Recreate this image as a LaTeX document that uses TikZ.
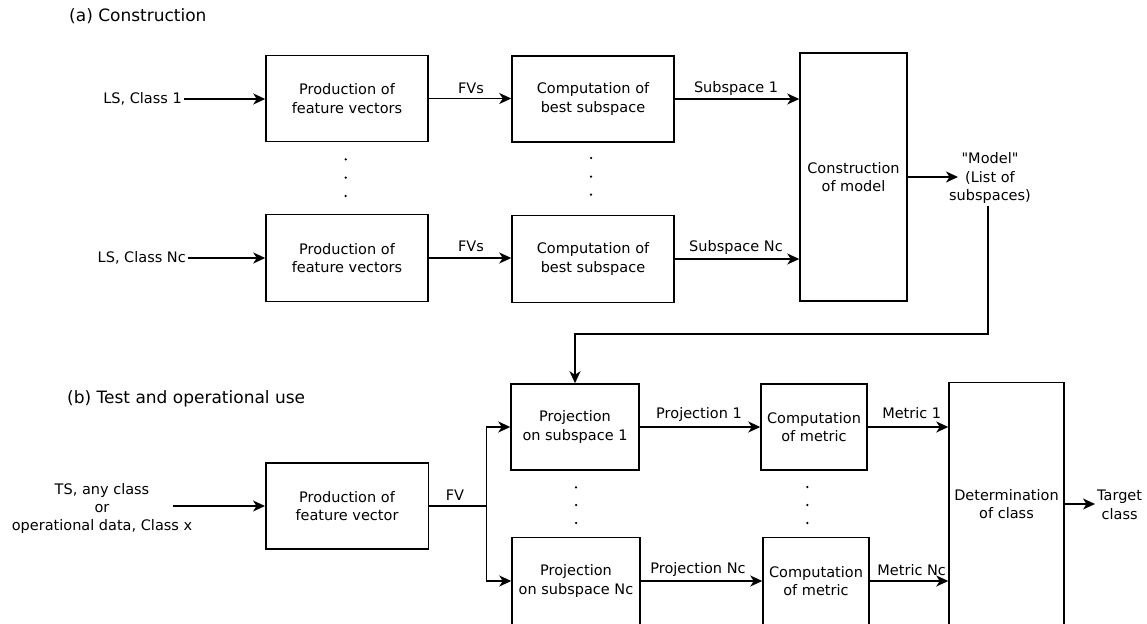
\documentclass[tikz,border=0pt]{standalone}
\usepackage{fontspec}
\setmainfont{DejaVu Sans}[Ligatures=TeXOff]
\usetikzlibrary{arrows.meta,calc}
\begin{document}
\begin{tikzpicture}[x=1pt,y=-1pt,
  box/.style={draw, line width=1.5pt, inner sep=0pt, align=center, font=\fontsize{14.5}{18.5}\selectfont},
  lbl/.style={inner sep=2pt, align=center, font=\fontsize{14.5}{18.5}\selectfont},
  ttl/.style={inner sep=0pt, anchor=west, font=\fontsize{17}{20}\selectfont},
  arr/.style={line width=1.5pt, -{Stealth[length=12pt,width=11pt,inset=3.5pt]}},
  ln/.style={line width=1.5pt},
  dot/.style={circle, fill, inner sep=0pt, minimum size=2.5pt}]
\useasboundingbox (0,0) rectangle (1147,623);

% titles
\node[ttl] (ta) at (69,16) {(a) Construction};
\node[ttl] (tb) at (67,399) {(b) Test and operational use};

% (a) boxes
\node[box, minimum width=162pt, minimum height=86pt] (P1) at (347,98.5) {Production of\\feature vectors};
\node[box, minimum width=162pt, minimum height=86pt] (C1) at (593,99) {Computation of\\best subspace};
\node[box, minimum width=162pt, minimum height=87pt] (P2) at (347,258) {Production of\\feature vectors};
\node[box, minimum width=162pt, minimum height=87pt] (C2) at (593,259) {Computation of\\best subspace};
\node[box, minimum width=107pt, minimum height=248pt] (CM) at (853.5,177) {Construction\\of model};

% (a) labels
\node[lbl, anchor=east] (ls1) at (184,99) {LS, Class 1};
\node[lbl, anchor=east] (lsn) at (188,258) {LS, Class Nc};
\node[lbl] (fv1) at (471,88) {FVs};
\node[lbl] (fv2) at (471,246) {FVs};
\node[lbl] (s1) at (736,88) {Subspace 1};
\node[lbl] (sn) at (736,247) {Subspace Nc};
\node[lbl] (model) at (990,178) {"Model"\\(List of\\subspaces)};
\coordinate (mend) at (958,177);

% (a) connectors
\draw[arr] (ls1.east) -- (ls1.east -| P1.west);
\draw[arr] (lsn.east) -- (lsn.east -| P2.west);
\draw[arr] (P1.east) -- (P1.east -| C1.west);
\draw[arr] (P2.east) -- (P2.east -| C2.west);
\draw[arr] (C1.east) -- (C1.east -| CM.west);
\draw[arr] (C2.east) -- (C2.east -| CM.west);
\draw[arr] (CM.east) -- (CM.east -| mend);

% dots (a)
\foreach \y [count=\i] in {159.3,177.7,196} \node[dot] (dp\i) at (345.7,\y) {};
\foreach \y [count=\i] in {158,176.7,194.7} \node[dot] (dc\i) at (591,\y) {};

% (b) boxes
\node[box, minimum width=162.5pt, minimum height=86pt] (PF) at (347,506) {Production of\\feature vector};
\node[box, minimum width=128pt, minimum height=86pt] (PR1) at (575,427) {Projection\\on subspace 1};
\node[box, minimum width=128pt, minimum height=87pt] (PR2) at (576,581) {Projection\\on subspace Nc};
\node[box, minimum width=106pt, minimum height=86pt] (ME1) at (814,427) {Computation\\of metric};
\node[box, minimum width=106pt, minimum height=87pt] (ME2) at (816,581) {Computation\\of metric};
\node[box, minimum width=115pt, minimum height=243pt] (DET) at (1006.5,504) {Determination\\of class};

% (b) labels
\node[lbl, font=\fontsize{14.5}{18}\selectfont] (ts) at (102,508) {TS, any class\\or\\operational data, Class x};
\coordinate (tsend) at (173,506);
\node[lbl] (fvb) at (455,495) {FV};
\coordinate (jn) at (486.5,506);
\node[lbl] (pj1) at (699,414) {Projection 1};
\node[lbl] (pjn) at (698,569) {Projection Nc};
\node[lbl] (m1) at (911.7,413.3) {Metric 1};
\node[lbl] (mn) at (911.7,570) {Metric Nc};
\node[lbl, anchor=west] (tgt) at (1095,505) {Target\\class};

% feedback from model to projection
\coordinate (fb) at (575,334);
\draw[arr] (model.south -| 988,0) |- (fb) -- (PR1.north);

% (b) connectors
\draw[arr] (tsend) -- (tsend -| PF.west);
\draw[ln] (PF.east) -- (jn);
\draw[arr] (jn) |- (PR1.west);
\draw[arr] (jn) |- (PR2.west);
\draw[arr] (PR1.east) -- (PR1.east -| ME1.west);
\draw[arr] (PR2.east) -- (PR2.east -| ME2.west);
\draw[arr] (ME1.east) -- (ME1.east -| DET.west);
\draw[arr] (ME2.east) -- (ME2.east -| DET.west);
\draw[arr] (DET.east) -- (DET.east -| tgt.west);

% dots (b)
\foreach \y [count=\i] in {487.3,505,523} \node[dot] (dr\i) at (576,\y) {};
\foreach \y [count=\i] in {487,505,523} \node[dot] (dm\i) at (807.3,\y) {};
\end{tikzpicture}
\end{document}
